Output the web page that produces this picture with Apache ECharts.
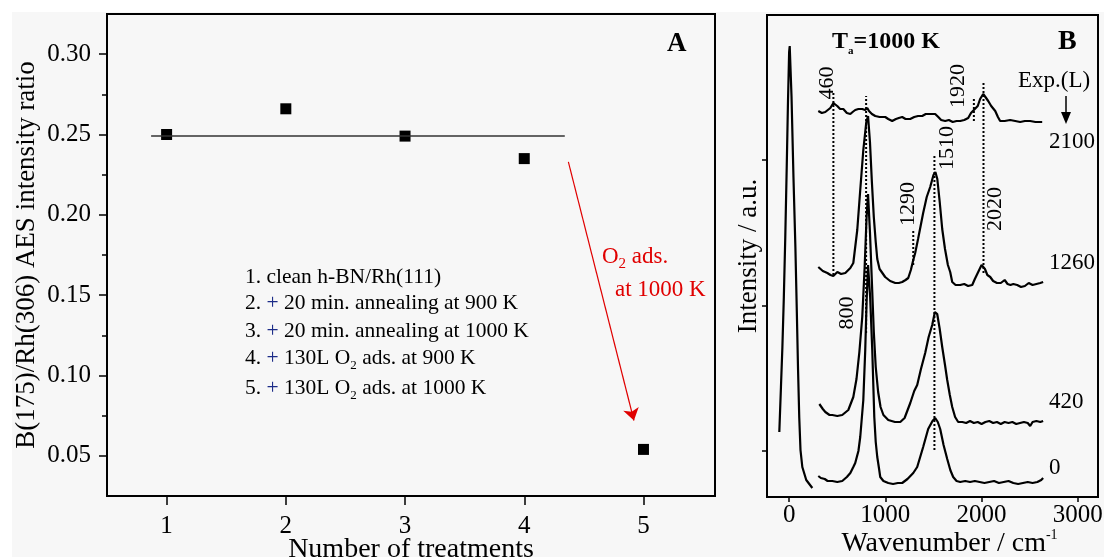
<!DOCTYPE html>
<html>
<head>
<meta charset="utf-8">
<title>AES ratio and HREEL spectra</title>
<script src="https://cdn.jsdelivr.net/npm/echarts@6.0.0/dist/echarts.min.js"></script>
<style>
  html, body { margin: 0; padding: 0; background: #fff; }
  #chart { width: 1104px; height: 557px; }
</style>
</head>
<body>
<div id="chart"></div>
<script>
// ---- panel A : AES intensity ratio ----
var treatments = [1, 2, 3, 4, 5];
var ratios = [0.250, 0.266, 0.249, 0.235, 0.054];
var constLine = [[0.87, 0.249], [4.34, 0.249]];
var arrowPath = [[4.37, 0.233], [4.92, 0.072]];
var ratioTicks = [0.05, 0.10, 0.15, 0.20, 0.25, 0.30];
var ratioMinor = [0.075, 0.125, 0.175, 0.225, 0.275];
var steps = [
    '1. clean h-BN/Rh(111)',
    '2. {p|+} 20 min. annealing at 900 K',
    '3. {p|+} 20 min. annealing at 1000 K',
    '4. {p|+} 130L O{s|2} ads. at 900 K',
    '5. {p|+} 130L O{s|2} ads. at 1000 K'
];

// ---- panel B : spectra, [wavenumber, intensity a.u.] ----
var wnTicks = [0, 1000, 2000, 3000];
var intTicks = [46, 191, 337];
var elastic = [[-102, 65], [-85, 110], [-70, 150], [-55, 200], [-40, 260], [-25, 330], [-12, 395], [0, 445], [6, 451],
    [25, 400], [45, 320], [65, 250], [80, 185], [92, 130], [105, 80], [118, 47], [137, 30], [178, 17], [241, 9]];
var spec0 = [[303, 21], [330, 19], [370, 18], [400, 16], [449, 16], [500, 15], [552, 16], [600, 20], [636, 24], [667, 30],
    [687, 34], [720, 46], [739, 60], [771, 97], [791, 147], [805, 195], [820, 232], [842, 200], [864, 147], [885, 80],
    [900, 55], [916, 40], [935, 28], [947, 20], [980, 16], [1030, 14], [1080, 13], [1130, 14], [1175, 14], [1230, 18],
    [1290, 24], [1331, 30], [1393, 50], [1445, 68], [1490, 76], [1518, 79], [1545, 75], [1570, 68], [1605, 52],
    [1643, 38], [1675, 27], [1705, 20], [1740, 16], [1778, 15], [1830, 16], [1880, 15], [1930, 16], [1980, 15],
    [2030, 14], [2080, 15], [2130, 16], [2180, 14], [2230, 15], [2280, 16], [2330, 14], [2380, 13], [2430, 14],
    [2480, 15], [2530, 14], [2580, 15], [2620, 17], [2640, 19]];
var spec420 = [[314, 93], [350, 88], [376, 85], [420, 82], [449, 82], [500, 81], [552, 82], [615, 87], [667, 100],
    [700, 118], [730, 145], [760, 180], [785, 230], [805, 280], [820, 303], [840, 265], [860, 215], [880, 165],
    [900, 130], [925, 105], [950, 90], [980, 82], [1030, 77], [1100, 75], [1155, 75], [1200, 79], [1259, 94],
    [1300, 106], [1331, 112], [1370, 128], [1414, 144], [1450, 160], [1487, 172], [1515, 185], [1539, 183],
    [1565, 168], [1591, 150], [1620, 132], [1643, 117], [1670, 102], [1695, 90], [1725, 80], [1757, 75], [1800, 75],
    [1840, 74], [1880, 76], [1920, 74], [1960, 75], [2000, 73], [2040, 75], [2080, 76], [2120, 74], [2160, 75],
    [2200, 73], [2240, 75], [2280, 74], [2320, 75], [2360, 73], [2400, 74], [2440, 75], [2480, 74], [2505, 71],
    [2530, 75], [2570, 76], [2610, 75], [2640, 76]];
var spec1260 = [[303, 230], [350, 226], [397, 224], [430, 222], [459, 221], [501, 225], [540, 223], [584, 224],
    [636, 229], [667, 234], [708, 267], [739, 307], [771, 347], [802, 375], [820, 381], [840, 355], [860, 315],
    [880, 280], [900, 255], [916, 238], [940, 228], [998, 220], [1050, 216], [1103, 214], [1140, 214], [1175, 215],
    [1210, 217], [1238, 219], [1265, 227], [1290, 237], [1310, 244], [1340, 258], [1393, 284], [1430, 300],
    [1466, 310], [1500, 322], [1520, 325], [1540, 318], [1565, 295], [1591, 268], [1620, 248], [1650, 232],
    [1674, 225], [1695, 215], [1730, 212], [1778, 212], [1820, 213], [1860, 211], [1903, 212], [1930, 218],
    [1960, 224], [1985, 229], [2000, 232], [2017, 232], [2035, 228], [2060, 222], [2090, 220], [2120, 216],
    [2160, 214], [2200, 214], [2240, 217], [2270, 213], [2300, 212], [2330, 213], [2370, 212], [2410, 210],
    [2450, 211], [2490, 214], [2530, 212], [2570, 213], [2610, 214], [2640, 215]];
var spec2100 = [[303, 386], [340, 384], [376, 385], [428, 389], [460, 394], [500, 391], [530, 388], [563, 388],
    [600, 384], [636, 383], [660, 385], [687, 387], [720, 388], [760, 388], [790, 387], [812, 389], [830, 386],
    [860, 383], [895, 381], [940, 380], [999, 380], [1030, 378], [1071, 376], [1110, 378], [1140, 379], [1175, 380],
    [1210, 378], [1258, 378], [1300, 380], [1340, 381], [1383, 381], [1420, 383], [1460, 383], [1518, 383],
    [1550, 380], [1580, 377], [1622, 376], [1660, 377], [1700, 375], [1740, 376], [1778, 376], [1820, 377],
    [1861, 379], [1890, 384], [1903, 386], [1920, 387], [1934, 385], [1960, 391], [1985, 398], [2017, 403],
    [2040, 400], [2069, 396], [2100, 391], [2142, 386], [2170, 380], [2193, 376], [2240, 376], [2297, 377],
    [2350, 376], [2401, 375], [2450, 376], [2505, 376], [2560, 375], [2630, 375]];
// dotted guide lines: [wavenumber, from, to]
var peakMarks = [[460, 222, 406], [800, 164, 401], [1290, 232, 266], [1510, 47, 341], [1920, 376, 398], [2020, 224, 415]];
var exposures = ['2100', '1260', '420', '0'];

var serif = '"Liberation Serif", "Times New Roman", "DejaVu Serif", serif';
var chart = echarts.init(document.getElementById('chart'));

function txt(x, y, text, size, extra) {
    var st = { text: text, x: 0, y: 0, font: size + 'px ' + serif, fill: '#000', align: 'left', verticalAlign: 'middle' };
    for (var k in extra) st[k] = extra[k];
    return { type: 'text', x: x, y: y, style: st, z: 50 };
}
function vtxt(x, y, text, size) {
    var e = txt(x, y, text, size, { align: 'center' });
    e.rotation = Math.PI / 2;
    return e;
}
function plain(v) { return String(v); }

var graphics = [
    { type: 'rect', shape: { x: 12, y: 12, width: 1092, height: 545 }, style: { fill: '#f7f7f7' }, z: -100 },
    txt(667, 44, 'A', 27, { font: 'bold 27px ' + serif }),
    txt(1058, 42, 'B', 28, { font: 'bold 28px ' + serif }),
    txt(832, 42, '{b|T}{s|a}{b|=1000 K}', 25, {
        rich: {
            b: { fontSize: 24, fontWeight: 'bold', fontFamily: serif, lineHeight: 30, fill: '#000' },
            s: { fontSize: 11, fontWeight: 'bold', fontFamily: serif, lineHeight: 11, verticalAlign: 'bottom', fill: '#000' }
        }
    }),
    txt(602, 257, 'O{s|2} ads.', 23, {
        fill: '#e00000', lineHeight: 30,
        rich: { s: { fontSize: 15, fontFamily: serif, lineHeight: 14, verticalAlign: 'bottom', fill: '#e00000' } }
    }),
    txt(615, 290, 'at 1000 K', 23, { fill: '#e00000' }),
    txt(1018, 81, 'Exp.(L)', 23),
    { type: 'line', shape: { x1: 1066, y1: 96, x2: 1066, y2: 114 }, style: { stroke: '#000', lineWidth: 1.5 }, z: 50 },
    { type: 'polygon', shape: { points: [[1061, 112], [1071, 112], [1066, 124]] }, style: { fill: '#000' }, z: 50 },
    txt(1049, 142, exposures[0], 23),
    txt(1049, 263, exposures[1], 23),
    txt(1049, 402, exposures[2], 23),
    txt(1049, 468, exposures[3], 23),
    vtxt(827, 83, '460', 22),
    vtxt(847, 313, '800', 22),
    vtxt(908, 204, '1290', 22),
    vtxt(947, 148, '1510', 22),
    vtxt(958, 86, '1920', 22),
    vtxt(995, 209, '2020', 22)
];
var stepY = [277, 303, 331, 358, 388];
steps.forEach(function (s, i) {
    graphics.push(txt(245, stepY[i], s, 21.5, {
        lineHeight: 28,
        rich: {
            p: { fontSize: 21.5, fontFamily: serif, fill: '#1c2c88' },
            s: { fontSize: 13, fontFamily: serif, lineHeight: 13, verticalAlign: 'bottom', fill: '#000' }
        }
    }));
});

var axisLineStyle = { onZero: false, lineStyle: { color: '#000', width: 2 } };
var series = [
    {
        type: 'scatter', xAxisIndex: 0, yAxisIndex: 0, symbol: 'rect', symbolSize: 11,
        itemStyle: { color: '#000', opacity: 1 },
        data: treatments.map(function (t, i) { return [t, ratios[i]]; }),
        markLine: {
            silent: true, symbol: ['none', 'arrow'], symbolSize: 12, animation: false,
            lineStyle: { color: '#e00000', width: 1.2, type: 'solid' },
            label: { show: false },
            data: [[{ coord: arrowPath[0] }, { coord: arrowPath[1] }]]
        }
    },
    {
        type: 'line', xAxisIndex: 0, yAxisIndex: 0, data: constLine, showSymbol: false,
        lineStyle: { color: '#333', width: 1.5 }
    }
];
[elastic, spec0, spec420, spec1260, spec2100].forEach(function (d) {
    series.push({
        type: 'line', xAxisIndex: 1, yAxisIndex: 2, data: d, showSymbol: false,
        lineStyle: { color: '#000', width: 2.2 }, z: 3
    });
});
peakMarks.forEach(function (m) {
    series.push({
        type: 'line', xAxisIndex: 1, yAxisIndex: 2, data: [[m[0], m[1]], [m[0], m[2]]], showSymbol: false,
        lineStyle: { color: '#000', width: 2, type: [2, 2] }, z: 2
    });
});

var option = {
    animation: false,
    textStyle: { fontFamily: serif },
    grid: [
        { left: 107, right: 389, top: 14, bottom: 61, outerBoundsMode: 'none', show: true, borderColor: '#000', borderWidth: 2 },
        { left: 767, right: 6, top: 15, bottom: 60, outerBoundsMode: 'none', show: true, borderColor: '#000', borderWidth: 2 }
    ],
    xAxis: [
        {
            gridIndex: 0, type: 'value', min: 0.5, max: 5.6,
            axisLine: axisLineStyle, splitLine: { show: false },
            axisTick: { customValues: treatments, length: 9, lineStyle: { color: '#000', width: 1.5 } },
            axisLabel: { customValues: treatments, fontSize: 25, color: '#000', margin: 18, fontFamily: serif, formatter: plain },
            name: 'Number of treatments', nameLocation: 'middle', nameGap: 40, nameMoveOverlap: false,
            nameTextStyle: { fontSize: 28, color: '#000', fontFamily: serif }
        },
        {
            gridIndex: 1, type: 'value', min: -230, max: 3210,
            axisLine: axisLineStyle, splitLine: { show: false },
            axisTick: { customValues: wnTicks, length: 5, lineStyle: { color: '#000', width: 1.5 } },
            axisLabel: { customValues: wnTicks, fontSize: 25, color: '#000', margin: 6, fontFamily: serif, formatter: plain },
            name: '{n|Wavenumber / cm}{u|-1}', nameLocation: 'middle', nameGap: 31, nameMoveOverlap: false,
            nameTextStyle: {
                fontSize: 28, color: '#000', fontFamily: serif, padding: [0, 0, 0, 34],
                rich: {
                    n: { fontSize: 28, color: '#000', fontFamily: serif, lineHeight: 32 },
                    u: { fontSize: 14, color: '#000', fontFamily: serif, lineHeight: 14, verticalAlign: 'top' }
                }
            }
        }
    ],
    yAxis: [
        {
            gridIndex: 0, type: 'value', min: 0.025, max: 0.325, position: 'left',
            axisLine: axisLineStyle, splitLine: { show: false },
            axisTick: { customValues: ratioTicks, length: 8, lineStyle: { color: '#000', width: 1.5 } },
            axisLabel: {
                customValues: ratioTicks, fontSize: 25, color: '#000', margin: 16, fontFamily: serif,
                formatter: function (v) { return v.toFixed(2); }
            },
            name: 'B(175)/Rh(306) AES intensity ratio', nameLocation: 'middle', nameGap: 67, nameMoveOverlap: false,
            nameTextStyle: { fontSize: 27, color: '#000', fontFamily: serif }
        },
        {
            gridIndex: 0, type: 'value', min: 0.025, max: 0.325, position: 'left',
            axisLine: { show: false, onZero: false }, splitLine: { show: false }, axisLabel: { show: false },
            axisTick: { customValues: ratioMinor, length: 5, lineStyle: { color: '#000', width: 1.5 } }
        },
        {
            gridIndex: 1, type: 'value', min: 0, max: 482, position: 'left',
            axisLine: axisLineStyle, splitLine: { show: false }, axisLabel: { show: false },
            axisTick: { customValues: intTicks, length: 5, lineStyle: { color: '#000', width: 1.5 } },
            name: 'Intensity / a.u.', nameLocation: 'middle', nameGap: 5, nameMoveOverlap: false,
            nameTextStyle: { fontSize: 27, color: '#000', fontFamily: serif }
        }
    ],
    graphic: graphics,
    series: series
};
chart.setOption(option);
</script>
</body>
</html>
